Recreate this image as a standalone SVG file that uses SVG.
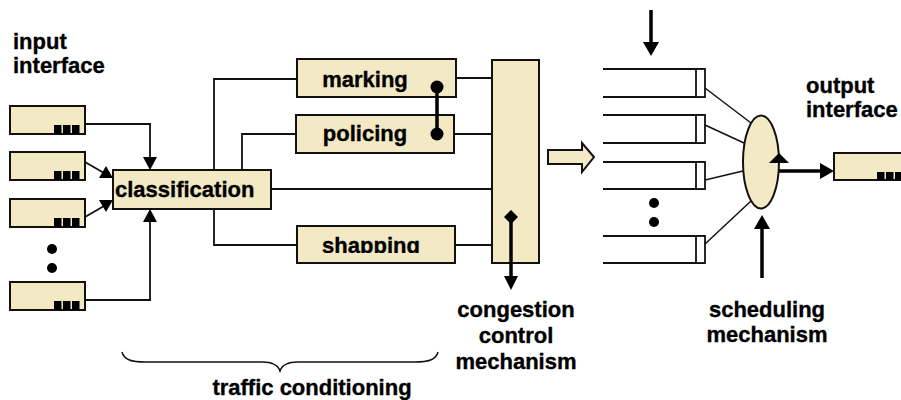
<svg xmlns="http://www.w3.org/2000/svg" width="901" height="400" viewBox="0 0 901 400">
  <style>
    .box { fill: #F3E9C4; stroke: #111; stroke-width: 2; }
    .ln { fill: none; stroke: #111; stroke-width: 1.8; }
    .thin { fill: none; stroke: #111; stroke-width: 1.5; }
    .thick { fill: none; stroke: #000; stroke-width: 3.5; }
    .q { fill: none; stroke: #111; stroke-width: 2; }
    .qend { fill: #fff; stroke: #111; stroke-width: 1.8; }
    .blk { fill: #000; }
    text { font-family: "Liberation Sans", Arial, Helvetica, sans-serif; font-weight: bold; font-size: 22px; fill: #000; stroke: #000; stroke-width: 0.35; }
    .mid { text-anchor: middle; }
  </style>
  <defs>
    <clipPath id="shapeClip">
      <rect x="297" y="226" width="158" height="27"/>
    </clipPath>
  </defs>
  <rect width="901" height="400" fill="#fff"/>

  <!-- input interface -->
  <g id="input-interface">
    <text x="13" y="49">input</text>
    <text x="13" y="73">interface</text>
  </g>
  <g id="in1">
    <rect class="box" x="10" y="106" width="75" height="28"/>
    <rect class="blk" x="54" y="125" width="7.5" height="9"/>
    <rect class="blk" x="63" y="125" width="7.5" height="9"/>
    <rect class="blk" x="72" y="125" width="7.5" height="9"/>
  </g>
  <g id="in2">
    <rect class="box" x="10" y="152" width="75" height="28"/>
    <rect class="blk" x="54" y="171" width="7.5" height="9"/>
    <rect class="blk" x="63" y="171" width="7.5" height="9"/>
    <rect class="blk" x="72" y="171" width="7.5" height="9"/>
  </g>
  <g id="in3">
    <rect class="box" x="10" y="199" width="75" height="28"/>
    <rect class="blk" x="54" y="218" width="7.5" height="9"/>
    <rect class="blk" x="63" y="218" width="7.5" height="9"/>
    <rect class="blk" x="72" y="218" width="7.5" height="9"/>
  </g>
  <g id="in-dots">
    <circle class="blk" cx="52" cy="249" r="5"/>
    <circle class="blk" cx="52" cy="268" r="5"/>
  </g>
  <g id="in4">
    <rect class="box" x="10" y="282" width="75" height="28"/>
    <rect class="blk" x="54" y="301" width="7.5" height="9"/>
    <rect class="blk" x="63" y="301" width="7.5" height="9"/>
    <rect class="blk" x="72" y="301" width="7.5" height="9"/>
  </g>

  <!-- classification -->
  <g id="classification">
    <rect class="box" x="113" y="170" width="158" height="39"/>
    <text x="115" y="197">classification</text>
  </g>

  <!-- conditioning stages -->
  <g id="marking">
    <rect class="box" x="297" y="59" width="159" height="38"/>
    <text class="mid" x="365" y="87">marking</text>
  </g>
  <g id="policing">
    <rect class="box" x="296" y="115" width="158" height="38"/>
    <text class="mid" x="365" y="141">policing</text>
  </g>
  <g id="shapping">
    <rect class="box" x="297" y="226" width="158" height="37"/>
    <text class="mid" x="371" y="253" clip-path="url(#shapeClip)">shapping</text>
  </g>
  <g id="traffic-conditioning">
    <text class="mid" x="312" y="395">traffic conditioning</text>
  </g>

  <!-- congestion control -->
  <g id="congestion-block">
    <rect class="box" x="492" y="60" width="47" height="203"/>
  </g>
  <g id="congestion-label">
    <text class="mid" x="516" y="317">congestion</text>
    <text class="mid" x="516" y="343">control</text>
    <text class="mid" x="516" y="369">mechanism</text>
  </g>

  <!-- output queues -->
  <g id="queue1">
    <line class="q" x1="603" y1="69" x2="705" y2="69"/>
    <line class="q" x1="603" y1="97" x2="705" y2="97"/>
    <rect class="qend" x="696" y="69" width="9" height="28"/>
  </g>
  <g id="queue2">
    <line class="q" x1="603" y1="115" x2="705" y2="115"/>
    <line class="q" x1="603" y1="143" x2="705" y2="143"/>
    <rect class="qend" x="696" y="115" width="9" height="28"/>
  </g>
  <g id="queue3">
    <line class="q" x1="603" y1="162" x2="705" y2="162"/>
    <line class="q" x1="603" y1="189" x2="705" y2="189"/>
    <rect class="qend" x="696" y="162" width="9" height="27"/>
  </g>
  <g id="queue-dots">
    <circle class="blk" cx="654" cy="203" r="5"/>
    <circle class="blk" cx="654" cy="222" r="5"/>
  </g>
  <g id="queue4">
    <line class="q" x1="603" y1="236" x2="705" y2="236"/>
    <line class="q" x1="603" y1="263" x2="705" y2="263"/>
    <rect class="qend" x="696" y="236" width="9" height="27"/>
  </g>

  <!-- scheduler -->
  <g id="scheduler">
    <ellipse class="box" cx="761" cy="162" rx="18" ry="46.5"/>
    <polygon class="blk" points="769,163 789,163 779,153"/>
  </g>
  <g id="scheduling-label">
    <text class="mid" x="767" y="317">scheduling</text>
    <text class="mid" x="767" y="342">mechanism</text>
  </g>

  <!-- output interface -->
  <g id="output-interface">
    <text x="806" y="93">output</text>
    <text x="806" y="117">interface</text>
    <rect class="box" x="834" y="153" width="80" height="27"/>
    <rect class="blk" x="877" y="172" width="7.5" height="8"/>
    <rect class="blk" x="886" y="172" width="7.5" height="8"/>
    <rect class="blk" x="895" y="172" width="7.5" height="8"/>
  </g>

  <!-- connectors -->
  <g id="connectors">
    <!-- input ports to classification -->
    <polyline class="ln" points="85,124 150,124 150,158"/>
    <polygon class="blk" points="143,157 157,157 150,170"/>
    <line class="ln" x1="85" y1="162" x2="104" y2="173"/>
    <polygon class="blk" points="113,178 99,178 106,166"/>
    <line class="ln" x1="85" y1="217" x2="104" y2="206"/>
    <polygon class="blk" points="113,200 106,212 99,200"/>
    <polyline class="ln" points="85,300 150,300 150,221"/>
    <polygon class="blk" points="143,222 157,222 150,209"/>
    <!-- classification fan-out -->
    <polyline class="ln" points="297,79 214,79 214,170"/>
    <polyline class="ln" points="214,209 214,245 297,245"/>
    <polyline class="ln" points="242,170 242,134 296,134"/>
    <line class="ln" x1="271" y1="189" x2="492" y2="189"/>
    <line class="ln" x1="456" y1="78" x2="492" y2="78"/>
    <line class="ln" x1="454" y1="134" x2="492" y2="134"/>
    <line class="ln" x1="455" y1="245" x2="492" y2="245"/>
    <!-- marking / policing coupling -->
    <line class="thick" x1="437" y1="87" x2="437" y2="134"/>
    <circle class="blk" cx="437" cy="87" r="6.5"/>
    <circle class="blk" cx="437" cy="134" r="6.5"/>
    <!-- congestion control arrow -->
    <line class="thick" x1="511" y1="217" x2="511" y2="278"/>
    <polygon class="blk" points="504,276 518,276 511,290"/>
    <polygon class="blk" points="511,210 518,217 511,224 504,217"/>
    <!-- block arrow to queues -->
    <polygon class="box" stroke-width="1.5" points="548,150 582,150 582,143 594,157 582,172 582,164 548,164"/>
    <!-- top arrow into queues -->
    <line class="thick" x1="651" y1="10" x2="651" y2="44"/>
    <polygon class="blk" points="643,42 659,42 651,56"/>
    <!-- queues to scheduler -->
    <line class="thin" x1="705" y1="88" x2="751" y2="123"/>
    <line class="thin" x1="705" y1="125" x2="744" y2="143"/>
    <line class="thin" x1="705" y1="180" x2="743" y2="171"/>
    <line class="thin" x1="705" y1="244" x2="751" y2="201"/>
    <!-- scheduling arrow -->
    <line class="thick" x1="762" y1="278" x2="762" y2="226"/>
    <polygon class="blk" points="754,229 770,229 762,215"/>
    <!-- output link -->
    <line class="thick" x1="779" y1="171" x2="822" y2="171"/>
    <polygon class="blk" points="820,163 834,171 820,179"/>
    <!-- brace -->
    <path class="thin" d="M122,352 C124,360 132,362 145,362 L262,362 C272,362 278,365 280,371 C282,365 288,362 298,362 L415,362 C428,362 436,360 438,352"/>
  </g>
</svg>
